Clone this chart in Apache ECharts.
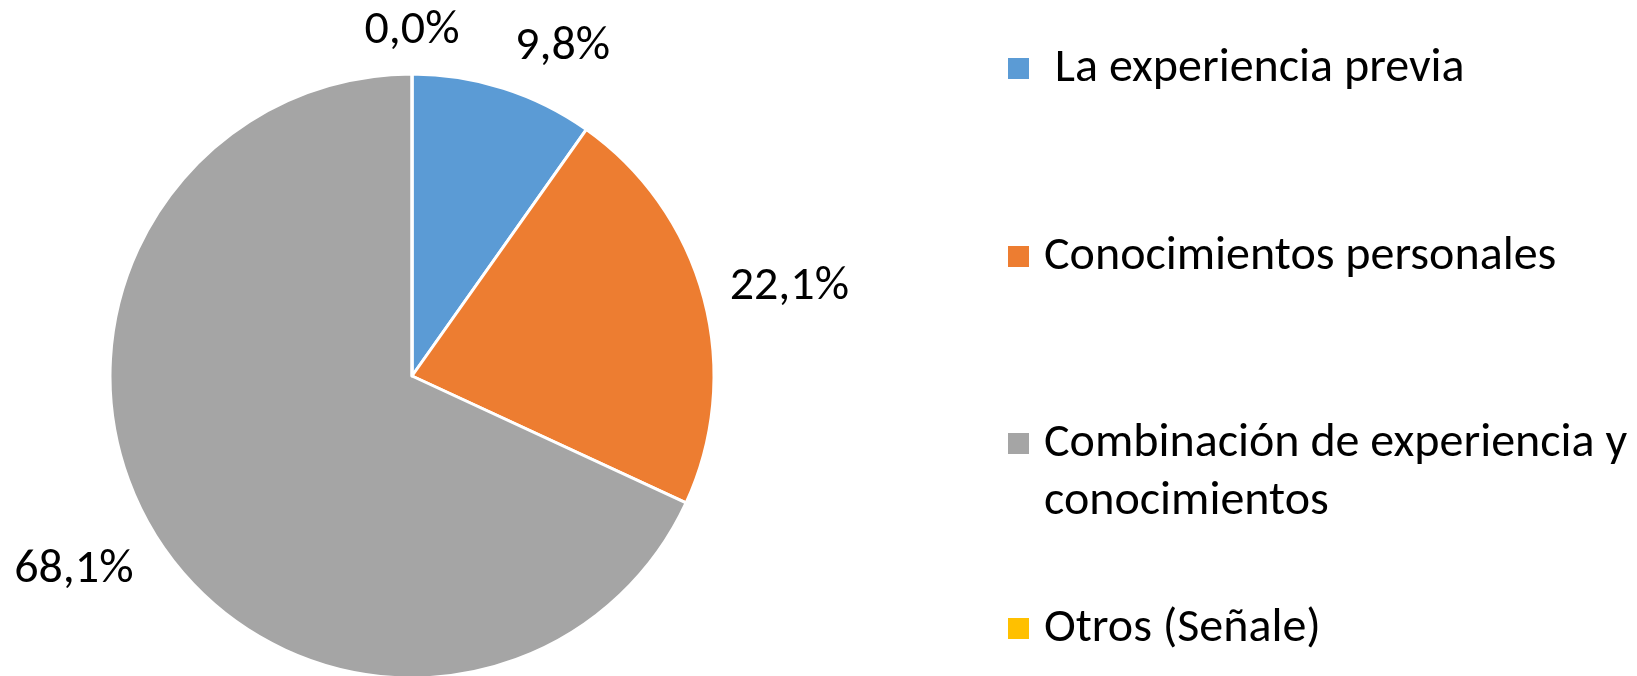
<!DOCTYPE html>
<html>
<head>
<meta charset="utf-8">
<title>Pie</title>
<script src="https://cdn.jsdelivr.net/npm/echarts@6/dist/echarts.min.js"></script>
<style>
  html, body { margin: 0; padding: 0; background: #fff; }
  #chart { width: 1637px; height: 676px; }
</style>
</head>
<body>
<div id="chart"></div>
<script>
// Categories and their shares (%)
const categories = [
  ' La experiencia previa',
  'Conocimientos personales',
  'Combinación de experiencia y conocimientos',
  'Otros (Señale)'
];
const shares = [9.8, 22.1, 68.1, 0.0];
const sliceColors = ['#5B9BD5', '#ED7D31', '#A5A5A5', '#FFC000'];

const FONT = 'Carlito, Calibri, Lato, sans-serif';
const FONT_SIZE = 48;

// Outside label placement per slice: radial length, horizontal length, gap
const labelPlacement = [
  { length: 43, length2: 41, gap: 5 },
  { length: 44, length2: 38, gap: 5 },
  { length: 59, length2: 29, gap: 5 },
  { length: 43, length2: 0, gap: 0 }
];

// Vertical position of each legend entry
const legendTops = [39.5, 227.5, 414.5, 599.5];

const fmtPct = v => v.toFixed(1).replace('.', ',') + '%';

const chart = echarts.init(document.getElementById('chart'), null, { renderer: 'canvas' });

const option = {
  backgroundColor: '#ffffff',
  animation: false,
  legend: categories.map((name, i) => ({
    data: [name],
    orient: 'vertical',
    left: 1008,
    top: legendTops[i],
    padding: 0,
    itemWidth: 21,
    itemHeight: i === 2 ? 79 : 21,
    icon: i === 2 ? 'path://M0,0H21V21H0Z M0,79H21' : 'rect',
    symbolKeepAspect: false,
    selectedMode: false,
    itemStyle: { borderWidth: 0 },
    formatter: n => n.replace(' y ', ' y\n'),
    textStyle: {
      fontFamily: FONT,
      fontSize: FONT_SIZE,
      color: '#000',
      lineHeight: 58,
      padding: [0, 0, 0, 10]
    }
  })),
  series: [{
    type: 'pie',
    center: [412, 376],
    radius: 302,
    startAngle: 90,
    clockwise: true,
    avoidLabelOverlap: false,
    minShowLabelAngle: 0,
    itemStyle: { borderColor: '#ffffff', borderWidth: 3 },
    label: {
      show: true,
      position: 'outside',
      fontFamily: FONT,
      fontSize: FONT_SIZE,
      color: '#000',
      formatter: p => fmtPct(p.value)
    },
    labelLine: { show: false },
    labelLayout: () => ({ align: 'center' }),
    emphasis: { disabled: true },
    data: categories.map((name, i) => ({
      name,
      value: shares[i],
      itemStyle: { color: sliceColors[i] },
      label: { distanceToLabelLine: labelPlacement[i].gap },
      labelLine: { show: false, length: labelPlacement[i].length, length2: labelPlacement[i].length2 }
    }))
  }]
};

chart.setOption(option);
</script>
</body>
</html>
